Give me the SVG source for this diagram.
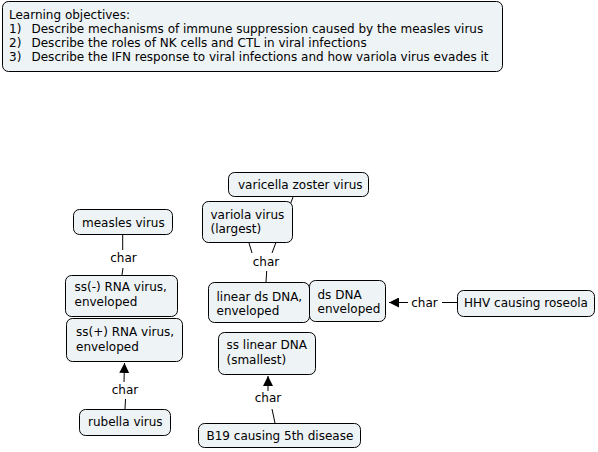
<svg xmlns="http://www.w3.org/2000/svg" width="598" height="452" viewBox="0 0 598 452">
<defs>
<style>
.n{fill:#eef3f6;stroke:#000;stroke-width:1}
text{font-family:"DejaVu Sans",Verdana,sans-serif;font-size:12px;fill:#000}
.c{stroke:#000;stroke-width:1;fill:none}
.lbl{text-anchor:middle}
</style>
<marker id="ah" viewBox="0 0 10 10" refX="10" refY="5" markerWidth="10" markerHeight="10" markerUnits="userSpaceOnUse" orient="auto">
<path d="M0,0 L10,5 L0,10 z" fill="#000"/>
</marker>
</defs>
<rect width="598" height="452" fill="#fff"/>
<g id="connectors">
<line class="c" x1="122.7" y1="235" x2="122.7" y2="250"/>
<text class="lbl" x="123.5" y="262">char</text>
<line class="c" x1="123" y1="268" x2="122" y2="275"/>
<line class="c" x1="124" y1="382" x2="124.5" y2="363" marker-end="url(#ah)"/>
<text class="lbl" x="125" y="393.5">char</text>
<line class="c" x1="125.5" y1="399" x2="125" y2="409"/>
<line class="c" x1="293" y1="197" x2="272" y2="253"/>
<line class="c" x1="249" y1="243" x2="252" y2="253"/>
<text class="lbl" x="266" y="266">char</text>
<line class="c" x1="266.7" y1="271" x2="266" y2="282"/>
<line class="c" x1="408" y1="302.5" x2="389" y2="302.5" marker-end="url(#ah)"/>
<text class="lbl" x="424.5" y="306.5">char</text>
<line class="c" x1="442" y1="302.5" x2="457" y2="302.5"/>
<line class="c" x1="268" y1="391" x2="268" y2="376" marker-end="url(#ah)"/>
<text class="lbl" x="268" y="402">char</text>
<line class="c" x1="272" y1="409" x2="275" y2="423"/>
</g>
<g id="objectives">
<rect class="n" x="2.5" y="1.5" width="500" height="70" rx="6"/>
<text x="9" y="18.5">Learning objectives:</text>
<text x="9" y="32.8">1)</text><text x="31.5" y="32.8">Describe mechanisms of immune suppression caused by the measles virus</text>
<text x="9" y="47">2)</text><text x="31.5" y="47">Describe the roles of NK cells and CTL in viral infections</text>
<text x="9" y="61.3">3)</text><text x="31.5" y="61.3">Describe the IFN response to viral infections and how variola virus evades it</text>
</g>
<g id="measles">
<rect class="n" x="73.5" y="209.5" width="99" height="25" rx="6"/>
<text x="82" y="226.5">measles virus</text>
</g>
<g id="ssminus">
<rect class="n" x="65.5" y="275.5" width="112" height="41" rx="6"/>
<text x="74.5" y="291">ss(-) RNA virus,</text>
<text x="74.5" y="306">enveloped</text>
</g>
<g id="ssplus">
<rect class="n" x="66.5" y="318.5" width="116" height="43" rx="6"/>
<text x="76" y="336">ss(+) RNA virus,</text>
<text x="76" y="351">enveloped</text>
</g>
<g id="rubella">
<rect class="n" x="79.5" y="409.5" width="91" height="26" rx="6"/>
<text x="88" y="426">rubella virus</text>
</g>
<g id="varicella">
<rect class="n" x="228.5" y="172.5" width="140" height="24" rx="6"/>
<text x="238" y="188.5">varicella zoster virus</text>
</g>
<g id="variola">
<rect class="n" x="202.5" y="201.5" width="90" height="41" rx="6"/>
<text x="210.5" y="219">variola virus</text>
<text x="210.5" y="233">(largest)</text>
</g>
<g id="linearDs">
<rect class="n" x="208.5" y="282.5" width="101" height="40" rx="6"/>
<text x="216.5" y="301">linear ds DNA,</text>
<text x="216.5" y="315">enveloped</text>
</g>
<g id="dsDNA">
<rect class="n" x="309.5" y="280.5" width="76" height="41" rx="6"/>
<text x="317.5" y="299">ds DNA</text>
<text x="317.5" y="313">enveloped</text>
</g>
<g id="hhv">
<rect class="n" x="457.5" y="290.5" width="137" height="26" rx="6"/>
<text x="464" y="306.5">HHV causing roseola</text>
</g>
<g id="ssLinear">
<rect class="n" x="218.5" y="332.5" width="97" height="42" rx="6"/>
<text x="226.5" y="348.5">ss linear DNA</text>
<text x="226.5" y="364">(smallest)</text>
</g>
<g id="b19">
<rect class="n" x="198.5" y="423.5" width="162" height="24" rx="6"/>
<text x="206.5" y="440">B19 causing 5th disease</text>
</g>
</svg>
